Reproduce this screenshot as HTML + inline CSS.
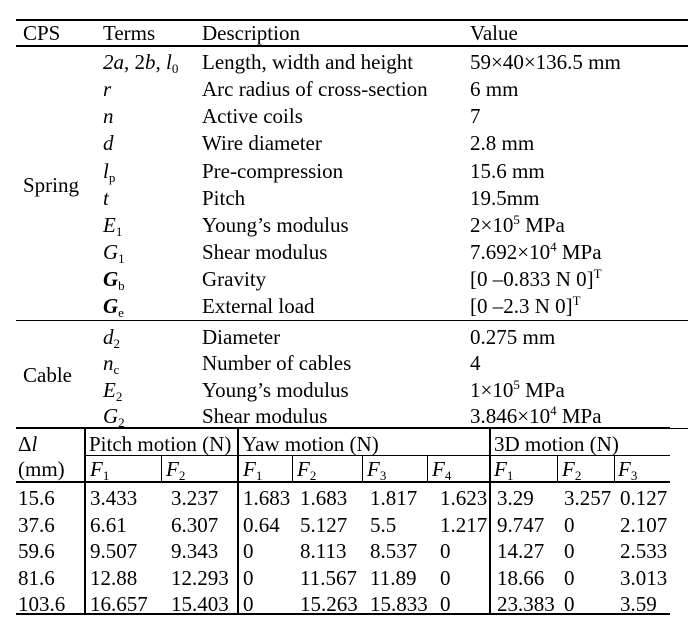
<!DOCTYPE html>
<html><head><meta charset="utf-8">
<style>
body{margin:0;background:#fff;}
#t{position:relative;width:688px;height:634px;overflow:hidden;font-family:"Liberation Serif",serif;font-size:21px;color:#000;}
.x{position:absolute;height:24px;line-height:24px;white-space:nowrap;}
.h{position:absolute;background:#000;}
sub{font-size:13px;vertical-align:-4px;line-height:0;font-style:normal;}
sup{font-size:13px;vertical-align:8px;line-height:0;}
i{font-style:italic;}
</style></head><body>
<div id="t">
<div class="h" style="left:16px;top:19px;width:672px;height:2px"></div>
<div class="h" style="left:16px;top:45px;width:672px;height:2px"></div>
<div class="h" style="left:16px;top:320px;width:672px;height:1px"></div>
<div class="h" style="left:16px;top:427px;width:654px;height:2px"></div>
<div class="h" style="left:670px;top:428px;width:18px;height:1px"></div>
<div class="h" style="left:16px;top:613px;width:654px;height:2px"></div>
<div class="h" style="left:85px;top:455px;width:585px;height:1px"></div>
<div class="h" style="left:16px;top:481px;width:654px;height:2px"></div>
<div class="h" style="left:84px;top:428px;width:2px;height:186px"></div>
<div class="h" style="left:237px;top:428px;width:2px;height:186px"></div>
<div class="h" style="left:489px;top:428px;width:2px;height:186px"></div>
<div class="h" style="left:161px;top:455px;width:1px;height:26px"></div>
<div class="h" style="left:292px;top:455px;width:1px;height:26px"></div>
<div class="h" style="left:362px;top:455px;width:1px;height:26px"></div>
<div class="h" style="left:427px;top:455px;width:1px;height:26px"></div>
<div class="h" style="left:557px;top:455px;width:1px;height:26px"></div>
<div class="h" style="left:614px;top:455px;width:1px;height:26px"></div>

<div class="x" style="left:23px;top:21px">CPS</div>
<div class="x" style="left:103px;top:21px">Terms</div>
<div class="x" style="left:202px;top:21px">Description</div>
<div class="x" style="left:470px;top:21px">Value</div>

<div class="x" style="left:23px;top:173px">Spring</div>
<div class="x" style="left:23px;top:363px">Cable</div>

<div class="x" style="left:103px;top:50px"><i>2a</i>, 2<i>b</i>, <i>l</i><sub>0</sub></div>
<div class="x" style="left:202px;top:50px">Length, width and height</div>
<div class="x" style="left:470px;top:50px">59×40×136.5 mm</div>

<div class="x" style="left:103px;top:77px"><i>r</i></div>
<div class="x" style="left:202px;top:77px">Arc radius of cross-section</div>
<div class="x" style="left:470px;top:77px">6 mm</div>

<div class="x" style="left:103px;top:104px"><i>n</i></div>
<div class="x" style="left:202px;top:104px">Active coils</div>
<div class="x" style="left:470px;top:104px">7</div>

<div class="x" style="left:103px;top:131px"><i>d</i></div>
<div class="x" style="left:202px;top:131px">Wire diameter</div>
<div class="x" style="left:470px;top:131px">2.8 mm</div>

<div class="x" style="left:103px;top:159px"><i>l</i><sub>p</sub></div>
<div class="x" style="left:202px;top:159px">Pre-compression</div>
<div class="x" style="left:470px;top:159px">15.6 mm</div>

<div class="x" style="left:103px;top:186px"><i>t</i></div>
<div class="x" style="left:202px;top:186px">Pitch</div>
<div class="x" style="left:470px;top:186px">19.5mm</div>

<div class="x" style="left:103px;top:213px"><i>E</i><sub>1</sub></div>
<div class="x" style="left:202px;top:213px">Young’s modulus</div>
<div class="x" style="left:470px;top:213px">2×10<sup>5</sup> MPa</div>

<div class="x" style="left:103px;top:240px"><i>G</i><sub>1</sub></div>
<div class="x" style="left:202px;top:240px">Shear modulus</div>
<div class="x" style="left:470px;top:240px">7.692×10<sup>4</sup> MPa</div>

<div class="x" style="left:103px;top:267px"><b><i>G</i></b><sub>b</sub></div>
<div class="x" style="left:202px;top:267px">Gravity</div>
<div class="x" style="left:470px;top:267px">[0 –0.833 N 0]<sup>T</sup></div>

<div class="x" style="left:103px;top:294px"><b><i>G</i></b><sub>e</sub></div>
<div class="x" style="left:202px;top:294px">External load</div>
<div class="x" style="left:470px;top:294px">[0 –2.3 N 0]<sup>T</sup></div>

<div class="x" style="left:103px;top:325px"><i>d</i><sub>2</sub></div>
<div class="x" style="left:202px;top:325px">Diameter</div>
<div class="x" style="left:470px;top:325px">0.275 mm</div>

<div class="x" style="left:103px;top:351px"><i>n</i><sub>c</sub></div>
<div class="x" style="left:202px;top:351px">Number of cables</div>
<div class="x" style="left:470px;top:351px">4</div>

<div class="x" style="left:103px;top:378px"><i>E</i><sub>2</sub></div>
<div class="x" style="left:202px;top:378px">Young’s modulus</div>
<div class="x" style="left:470px;top:378px">1×10<sup>5</sup> MPa</div>

<div class="x" style="left:103px;top:404px"><i>G</i><sub>2</sub></div>
<div class="x" style="left:202px;top:404px">Shear modulus</div>
<div class="x" style="left:470px;top:404px">3.846×10<sup>4</sup> MPa</div>

<div class="x" style="left:18px;top:432px">Δ<i>l</i></div>
<div class="x" style="left:18px;top:457px">(mm)</div>
<div class="x" style="left:89px;top:432px">Pitch motion (N)</div>
<div class="x" style="left:242px;top:432px">Yaw motion (N)</div>
<div class="x" style="left:494px;top:432px">3D motion (N)</div>

<div class="x" style="left:90px;top:457px"><i>F</i><sub>1</sub></div>
<div class="x" style="left:166px;top:457px"><i>F</i><sub>2</sub></div>
<div class="x" style="left:243px;top:457px"><i>F</i><sub>1</sub></div>
<div class="x" style="left:297px;top:457px"><i>F</i><sub>2</sub></div>
<div class="x" style="left:367px;top:457px"><i>F</i><sub>3</sub></div>
<div class="x" style="left:432px;top:457px"><i>F</i><sub>4</sub></div>
<div class="x" style="left:494px;top:457px"><i>F</i><sub>1</sub></div>
<div class="x" style="left:562px;top:457px"><i>F</i><sub>2</sub></div>
<div class="x" style="left:618px;top:457px"><i>F</i><sub>3</sub></div>
</div>
<script>
const deltaL=["15.6","37.6","59.6","81.6","103.6"];
const pitchF1=["3.433","6.61","9.507","12.88","16.657"];
const pitchF2=["3.237","6.307","9.343","12.293","15.403"];
const yawF1=["1.683","0.64","0","0","0"];
const yawF2=["1.683","5.127","8.113","11.567","15.263"];
const yawF3=["1.817","5.5","8.537","11.89","15.833"];
const yawF4=["1.623","1.217","0","0","0"];
const d3F1=["3.29","9.747","14.27","18.66","23.383"];
const d3F2=["3.257","0","0","0","0"];
const d3F3=["0.127","2.107","2.533","3.013","3.59"];
const cols=[[deltaL,18],[pitchF1,90],[pitchF2,171],[yawF1,243],[yawF2,300],[yawF3,370],[yawF4,440],[d3F1,497],[d3F2,564],[d3F3,620]];
const t=document.getElementById('t');
cols.forEach(function(c){
  c[0].forEach(function(v,i){
    const d=document.createElement('div');
    d.className='x';
    
    
    d.style.left=c[1]+'px';
    d.style.top=(486+i*26.6)+'px';
    d.textContent=v;
    t.appendChild(d);
  });
});
</script>
</body></html>
